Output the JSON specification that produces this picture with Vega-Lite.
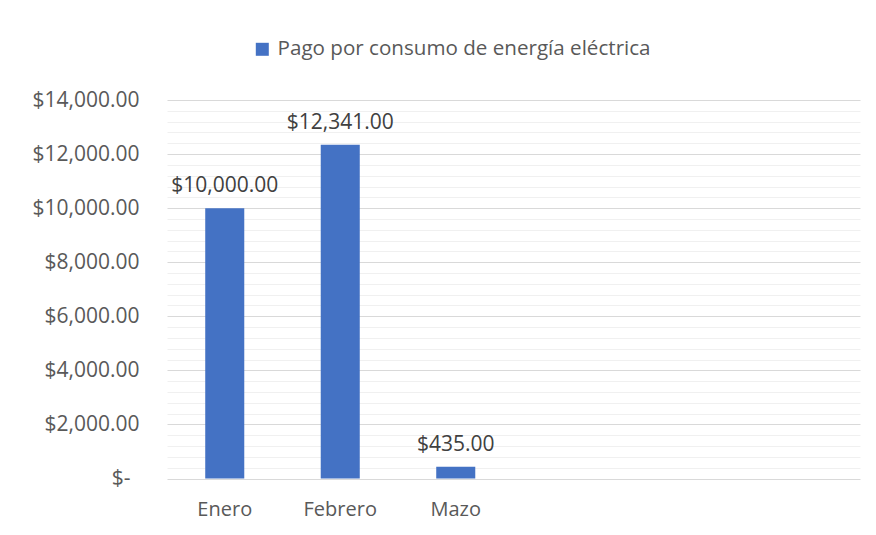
{
  "$schema": "https://vega.github.io/schema/vega-lite/v6.json",
  "width": 693,
  "height": 378.5,
  "autosize": {"type": "none"},
  "padding": {"left": 167, "top": 100, "right": 16, "bottom": 56.5},
  "background": "white",
  "config": {"view": {"stroke": null}, "font": "Open Sans"},
  "data": {
    "values": [
      {"mes": "Enero", "pago": 10000, "serie": "Pago por consumo de energía eléctrica"},
      {"mes": "Febrero", "pago": 12341, "serie": "Pago por consumo de energía eléctrica"},
      {"mes": "Mazo", "pago": 435, "serie": "Pago por consumo de energía eléctrica"}
    ]
  },
  "encoding": {
    "x": {
      "field": "mes",
      "type": "nominal",
      "scale": {"domain": ["Enero", "Febrero", "Mazo", " ", "  ", "   "], "paddingInner": 0.662, "paddingOuter": 0.331},
      "axis": {
        "title": null, "labelAngle": 0, "domain": false, "ticks": false, "tickSize": 0,
        "grid": false, "labelFontSize": 20, "labelColor": "#595959", "labelPadding": 21,
        "labelFont": "Open Sans"
      }
    },
    "y": {
      "field": "pago",
      "type": "quantitative",
      "scale": {"domain": [0, 14000], "nice": false},
      "axis": {
        "title": null, "domain": false, "ticks": false, "tickSize": 0,
        "values": [0, 400, 800, 1200, 1600, 2000, 2400, 2800, 3200, 3600, 4000, 4400, 4800, 5200, 5600, 6000, 6400, 6800, 7200, 7600, 8000, 8400, 8800, 9200, 9600, 10000, 10400, 10800, 11200, 11600, 12000, 12400, 12800, 13200, 13600, 14000],
        "labelExpr": "datum.value === 0 ? '$-' : (datum.value % 2000 === 0 ? format(datum.value, '$,.2f') : '')",
        "labelPadding": {"condition": {"test": "datum.value === 0", "value": 37}, "value": 28},
        "gridColor": {"condition": {"test": "datum.value % 2000 === 0", "value": "#D9D9D9"}, "value": "#F0F0F0"},
        "gridWidth": 1,
        "labelFontSize": 21, "labelColor": "#595959", "labelFont": "Open Sans"
      }
    }
  },
  "layer": [
    {
      "mark": {"type": "bar", "color": "#4472C4"},
      "encoding": {
        "color": {
          "field": "serie", "type": "nominal",
          "scale": {"range": ["#4472C4"]},
          "legend": {
            "title": null, "orient": "none", "legendX": 85, "legendY": -61,
            "symbolType": "square", "symbolSize": 169, "symbolStrokeWidth": 0,
            "labelFontSize": 20.6, "labelColor": "#595959", "labelOffset": 5, "padding": 0,
            "labelFont": "Open Sans", "labelLimit": 0
          }
        }
      }
    },
    {
      "mark": {"type": "text", "dy": -16, "baseline": "alphabetic", "fontSize": 21, "color": "#404040", "font": "Open Sans"},
      "encoding": {"text": {"field": "pago", "type": "quantitative", "format": "$,.2f"}}
    }
  ]
}
